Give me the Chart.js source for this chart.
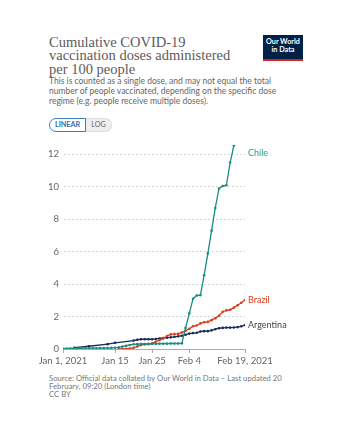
<!DOCTYPE html>
<html>
<head>
<meta charset="utf-8">
<script src="https://cdn.jsdelivr.net/npm/chart.js@4"></script>
<style>
  body { margin: 0; background: #fff; width: 350px; height: 440px; position: relative; overflow: hidden; font-family: Lato, sans-serif; }
  .title { position: absolute; left: 49px; top: 36px; width: 210px; font-family: "Liberation Serif", serif; font-size: 14.5px; line-height: 13.3px; color: #5b5b5b; }
  .sub { position: absolute; left: 49px; top: 75.7px; width: 240px; font-size: 8.5px; line-height: 10px; color: #666; }
  .logo { position: absolute; left: 263px; top: 35px; width: 40px; height: 21px; background: #002147; border-bottom: 2px solid #ce261e; color: #fff; font-family: Lato, sans-serif; font-weight: bold; font-size: 7.2px; line-height: 7.6px; text-align: center; padding-top: 3px; box-sizing: content-box; }
  .toggle { position: absolute; left: 49px; top: 118px; height: 14px; display: flex; font-size: 7.2px; font-weight: bold; }
  .toggle div { height: 12px; line-height: 12px; text-align: center; }
  .lin { width: 35px; border: 1px solid #3b7fc4; border-radius: 7px 0 0 7px; color: #2f6fae; background: #fff; }
  .log { width: 25px; border: 1px solid #ddd; border-left: none; border-radius: 0 7px 7px 0; color: #666; background: #eee; font-weight: normal; }
  .src { position: absolute; left: 49px; top: 373.5px; width: 236px; font-size: 7.7px; line-height: 8.2px; color: #777; }
  #wrap { position: absolute; left: 30px; top: 135px; width: 290px; height: 234px; }
</style>
</head>
<body>
<div class="title">Cumulative COVID-19<br>vaccination doses administered<br>per 100 people</div>
<div class="logo">Our World<br>in Data</div>
<div class="sub">This is counted as a single dose, and may not equal the total number of people vaccinated, depending on the specific dose regime (e.g. people receive multiple doses).</div>
<div class="toggle"><div class="lin">LINEAR</div><div class="log">LOG</div></div>
<div id="wrap"><canvas id="myChart"></canvas></div>
<div class="src">Source: Official data collated by Our World in Data – Last updated 20<br>February, 09:20 (London time)<br>CC BY</div>

<script>
const startDate = '2021-01-01';

const chileDates = [
    '2021-01-01', '2021-01-02', '2021-01-03', '2021-01-04', '2021-01-05', '2021-01-06', '2021-01-07',
    '2021-01-08', '2021-01-09', '2021-01-10', '2021-01-11', '2021-01-12', '2021-01-13', '2021-01-14',
    '2021-01-15', '2021-01-16', '2021-01-17', '2021-01-18', '2021-01-19', '2021-01-20', '2021-01-21',
    '2021-01-22', '2021-01-23', '2021-01-24', '2021-01-25', '2021-01-26', '2021-01-27', '2021-01-28',
    '2021-01-29', '2021-01-30', '2021-01-31', '2021-02-01', '2021-02-02', '2021-02-03', '2021-02-04',
    '2021-02-05', '2021-02-06', '2021-02-07', '2021-02-08', '2021-02-09', '2021-02-10', '2021-02-11',
    '2021-02-12', '2021-02-13', '2021-02-14', '2021-02-15', '2021-02-16',
];
const chileValues = [
    0.02, 0.03, 0.03, 0.04, 0.04, 0.05, 0.05,
    0.05, 0.05, 0.05, 0.06, 0.06, 0.06, 0.07,
    0.08, 0.1, 0.15, 0.2, 0.25, 0.29, 0.3,
    0.31, 0.31, 0.32, 0.32, 0.32, 0.33, 0.33,
    0.33, 0.34, 0.34, 0.34, 0.35, 1.3, 2.2,
    3.1, 3.3, 3.32, 4.55, 5.9, 7.3, 8.7,
    9.9, 10.05, 10.1, 11.5, 12.55,
];

const brazilDates = [
    '2021-01-16', '2021-01-17', '2021-01-18', '2021-01-19', '2021-01-20', '2021-01-21', '2021-01-22',
    '2021-01-23', '2021-01-24', '2021-01-25', '2021-01-26', '2021-01-27', '2021-01-28', '2021-01-29',
    '2021-01-30', '2021-01-31', '2021-02-01', '2021-02-02', '2021-02-03', '2021-02-04', '2021-02-05',
    '2021-02-06', '2021-02-07', '2021-02-08', '2021-02-09', '2021-02-10', '2021-02-11', '2021-02-12',
    '2021-02-13', '2021-02-14', '2021-02-15', '2021-02-16', '2021-02-17', '2021-02-18', '2021-02-19',
];
const brazilValues = [
    0.0, 0.0, 0.01, 0.03, 0.08, 0.15, 0.25,
    0.28, 0.3, 0.35, 0.45, 0.55, 0.65, 0.8,
    0.9, 0.92, 0.93, 1.02, 1.12, 1.25, 1.4,
    1.45, 1.58, 1.65, 1.67, 1.78, 1.9, 2.05,
    2.3, 2.38, 2.42, 2.55, 2.7, 2.85, 3.02,
];

const argentinaDates = [
    '2021-01-04', '2021-01-08', '2021-01-13', '2021-01-15', '2021-01-20', '2021-01-21', '2021-01-22',
    '2021-01-23', '2021-01-24', '2021-01-25', '2021-01-26', '2021-01-27', '2021-01-28', '2021-01-29',
    '2021-01-30', '2021-01-31', '2021-02-01', '2021-02-02', '2021-02-03', '2021-02-04', '2021-02-05',
    '2021-02-06', '2021-02-07', '2021-02-08', '2021-02-09', '2021-02-10', '2021-02-11', '2021-02-12',
    '2021-02-13', '2021-02-14', '2021-02-15', '2021-02-16', '2021-02-17', '2021-02-18', '2021-02-19',
];
const argentinaValues = [
    0.08, 0.17, 0.3, 0.38, 0.52, 0.57, 0.6,
    0.6, 0.6, 0.6, 0.62, 0.65, 0.68, 0.7,
    0.72, 0.75, 0.78, 0.82, 0.88, 0.95, 0.98,
    1.0, 1.08, 1.1, 1.1, 1.15, 1.22, 1.28,
    1.3, 1.32, 1.32, 1.33, 1.35, 1.4, 1.48,
];

const tickDates = ['2021-01-01', '2021-01-15', '2021-01-25', '2021-02-04', '2021-02-19'];
const tickLabels = ['Jan 1, 2021', 'Jan 15', 'Jan 25', 'Feb 4', 'Feb 19, 2021'];
const yTicks = [0, 2, 4, 6, 8, 10, 12];

// days since Jan 1
const dayOf = d => (Date.parse(d) - Date.parse(startDate)) / 86400000;
const toPoints = (dates, vals) => dates.map((d, i) => ({ x: dayOf(d), y: vals[i] }));

const series = [
    { label: 'Chile', dates: chileDates, values: chileValues, color: '#15907f', text: '#1fa190' },
    { label: 'Brazil', dates: brazilDates, values: brazilValues, color: '#d63e1f', text: '#d63e1f' },
    { label: 'Argentina', dates: argentinaDates, values: argentinaValues, color: '#1d2b5c', text: '#444' },
];

const endLabels = {
    id: 'endLabels',
    afterDatasetsDraw(chart) {
        const ctx = chart.ctx;
        const area = chart.chartArea;
        const ys = chart.scales.y;
        ctx.save();
        ctx.font = '9px Lato';
        ctx.textBaseline = 'middle';
        series.forEach(s => {
            let y = ys.getPixelForValue(s.values[s.values.length - 1]);
            y = Math.max(y, area.top + 8);
            ctx.fillStyle = s.text;
            ctx.fillText(s.label, area.right + 3, y);
        });
        ctx.restore();
    }
};

const cts = document.querySelector('#myChart').getContext('2d');

const myChart = new Chart(cts, {
    type: 'line',
    data: {
        datasets: series.map(s => ({
            label: s.label,
            data: toPoints(s.dates, s.values),
            borderColor: s.color,
            backgroundColor: s.color,
            borderWidth: 1.3,
            pointRadius: 1.3,
            pointHoverRadius: 1.3,
            pointBorderWidth: 0,
            tension: 0,
        })),
    },
    options: {
        responsive: true,
        maintainAspectRatio: false,
        animation: false,
        layout: { padding: { top: 8, right: 75, left: 0, bottom: 0 } },
        plugins: { legend: { display: false }, tooltip: { enabled: false } },
        scales: {
            x: {
                type: 'linear',
                min: 0,
                max: dayOf(tickDates[tickDates.length - 1]),
                afterBuildTicks: ax => { ax.ticks = tickDates.map(d => ({ value: dayOf(d) })); },
                afterFit: ax => { ax.height = 20; },
                ticks: {
                    autoSkip: false,
                    maxRotation: 0,
                    padding: 2,
                    color: '#666',
                    font: { family: 'Lato', size: 9.5 },
                    callback: v => tickLabels[tickDates.findIndex(d => dayOf(d) === v)],
                },
                grid: { drawOnChartArea: false, tickLength: 4, color: '#aaa' },
                border: { color: '#aaa' },
            },
            y: {
                min: 0,
                max: 12.6,
                afterBuildTicks: ax => { ax.ticks = yTicks.map(v => ({ value: v })); },
                afterFit: ax => { ax.width = 33; },
                ticks: { color: '#666', padding: 4, font: { family: 'Lato', size: 9.5 } },
                grid: { color: '#c8c8c8', tickLength: 0, lineWidth: 1 },
                border: { display: true, color: 'rgba(0,0,0,0)', dash: [1.5, 2.5] },
            },
        },
    },
    plugins: [endLabels],
});
</script>
</body>
</html>
